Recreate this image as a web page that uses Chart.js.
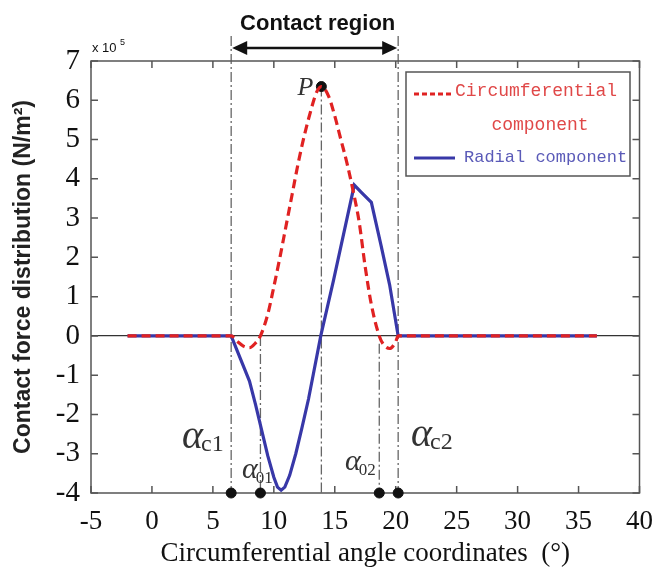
<!DOCTYPE html>
<html>
<head>
<meta charset="utf-8">
<script src="https://cdn.jsdelivr.net/npm/chart.js@4.4.0/dist/chart.umd.min.js"></script>
<style>
  body { margin: 0; background: #fff; }
  #wrap { width: 666px; height: 572px; }
</style>
</head>
<body>
<div id="wrap"><canvas id="forceChart"></canvas></div>
<script>
// circumferential component (x 10^5 N/m^2)
const circAngles = [-2, 6.5, 7, 7.5, 8, 8.5, 8.9, 9.5, 10, 10.5, 11, 11.5, 12, 12.5, 13, 13.5, 13.9, 14.5, 15, 15.5, 16, 16.5, 17, 17.5, 18, 18.65, 19, 19.5, 20, 20.2, 36.5];
const circValues = [0, 0, -0.14, -0.26, -0.3, -0.18, 0, 0.55, 1.25, 2.0, 2.8, 3.6, 4.4, 5.1, 5.7, 6.2, 6.35, 6.1, 5.6, 5.0, 4.4, 3.7, 2.9, 1.75, 0.8, 0, -0.22, -0.32, -0.15, 0, 0];

// radial component
const radialAngles = [-2, 6.5, 8.0, 8.5, 9, 9.5, 10, 10.3, 10.6, 10.9, 11.3, 11.8, 12.3, 12.85, 13.85, 14.9, 16.6, 17.2, 18, 18.8, 19.5, 20.2, 36.5];
const radialValues = [0, 0, -1.15, -1.75, -2.4, -3.05, -3.6, -3.85, -3.93, -3.85, -3.55, -3.0, -2.35, -1.6, 0, 1.42, 3.84, 3.65, 3.4, 2.3, 1.3, 0, 0];

// marked angles
const markerAngles = [6.5, 8.9, 18.65, 20.2];
const markerNames = ['c1', '01', '02', 'c2'];
const peakAngle = 13.9;
const peakValue = 6.35;

const xTicks = [-5, 0, 5, 10, 15, 20, 25, 30, 35, 40];
const yTicks = [-4, -3, -2, -1, 0, 1, 2, 3, 4, 5, 6, 7];

const serif = "'Liberation Serif', 'Times New Roman', serif";

function pts(xs, ys) {
  return xs.map((x, i) => ({ x: x, y: ys[i] }));
}

const decorations = {
  id: 'decorations',
  beforeDatasetsDraw(chart) {
    const c = chart.ctx, a = chart.chartArea;
    const xs = chart.scales.x, ys = chart.scales.y;
    c.save();
    // dash-dot guide lines
    c.strokeStyle = '#666';
    c.lineWidth = 1.3;
    c.setLineDash([10, 3, 2, 3]);
    const vline = (v, y0, y1) => {
      const px = xs.getPixelForValue(v);
      c.beginPath(); c.moveTo(px, y0); c.lineTo(px, y1); c.stroke();
    };
    vline(markerAngles[0], 36, a.bottom);
    vline(markerAngles[3], 36, a.bottom);
    vline(markerAngles[1], ys.getPixelForValue(0), a.bottom);
    vline(markerAngles[2], ys.getPixelForValue(-0.2), a.bottom);
    vline(peakAngle, ys.getPixelForValue(peakValue), a.bottom);
    c.setLineDash([]);
    // frame
    c.strokeStyle = '#555';
    c.lineWidth = 1.5;
    c.strokeRect(a.left, a.top, a.right - a.left, a.bottom - a.top);
    // inward ticks
    c.beginPath();
    xTicks.forEach(v => {
      const px = xs.getPixelForValue(v);
      c.moveTo(px, a.bottom); c.lineTo(px, a.bottom - 7);
      c.moveTo(px, a.top); c.lineTo(px, a.top + 7);
    });
    yTicks.forEach(v => {
      const py = ys.getPixelForValue(v);
      c.moveTo(a.left, py); c.lineTo(a.left + 7, py);
      c.moveTo(a.right, py); c.lineTo(a.right - 7, py);
    });
    c.stroke();
    c.restore();
  },
  afterDatasetsDraw(chart) {
    const c = chart.ctx, a = chart.chartArea;
    const xs = chart.scales.x, ys = chart.scales.y;
    c.save();
    // contact region arrow
    const x1 = xs.getPixelForValue(markerAngles[0]), x2 = xs.getPixelForValue(markerAngles[3]);
    const ay = 48;
    c.strokeStyle = '#111'; c.fillStyle = '#111'; c.lineWidth = 2.5;
    c.beginPath(); c.moveTo(x1 + 10, ay); c.lineTo(x2 - 10, ay); c.stroke();
    c.beginPath(); c.moveTo(x1 + 1, ay); c.lineTo(x1 + 16, ay - 7); c.lineTo(x1 + 16, ay + 7); c.closePath(); c.fill();
    c.beginPath(); c.moveTo(x2 - 1, ay); c.lineTo(x2 - 16, ay - 7); c.lineTo(x2 - 16, ay + 7); c.closePath(); c.fill();
    c.font = "bold 22px 'Liberation Sans Narrow', 'Liberation Sans', sans-serif";
    c.textAlign = 'center'; c.textBaseline = 'middle';
    c.fillText('Contact region', (x1 + x2) / 2 + 3, 24);
    // exponent
    c.textAlign = 'left'; c.textBaseline = 'alphabetic';
    c.font = "13px 'Liberation Sans', sans-serif";
    c.fillText('x 10', a.left + 1, 52);
    c.font = "9px 'Liberation Sans', sans-serif";
    c.fillText('5', a.left + 29, 45);
    // P label
    c.font = 'italic 26px ' + serif;
    c.fillStyle = '#333';
    c.textAlign = 'right';
    c.fillText('P', xs.getPixelForValue(peakAngle) - 8, ys.getPixelForValue(peakValue) + 8);
    // alpha labels
    const alpha = (x, y, sub, big) => {
      c.textAlign = 'left';
      c.font = 'italic ' + (big ? 40 : 30) + 'px ' + serif;
      c.fillText('\u03b1', x, y);
      const w = c.measureText('\u03b1').width;
      c.font = (big ? 24 : 17) + 'px ' + serif;
      c.fillText(sub, x + w - 2, y + (big ? 3 : 5));
    };
    alpha(182, 448, markerNames[0], true);
    alpha(242, 478, markerNames[1], false);
    alpha(345, 470, markerNames[2], false);
    alpha(411, 446, markerNames[3], true);
    // legend
    c.strokeStyle = '#555'; c.lineWidth = 1.5;
    c.strokeRect(406, 72, 224, 104);
    c.strokeStyle = '#e02222'; c.lineWidth = 3; c.setLineDash([5, 3]);
    c.beginPath(); c.moveTo(414, 94); c.lineTo(453, 94); c.stroke();
    c.setLineDash([]);
    c.font = "18px 'Liberation Mono', monospace";
    c.fillStyle = '#e04848';
    c.textAlign = 'left'; c.textBaseline = 'middle';
    c.fillText('Circumferential', 455, 91);
    c.textAlign = 'center';
    c.fillText('component', 540, 125);
    c.strokeStyle = '#3838a8';
    c.beginPath(); c.moveTo(414, 158); c.lineTo(455, 158); c.stroke();
    c.fillStyle = '#5a5ab8';
    c.font = "17px 'Liberation Mono', monospace";
    c.textAlign = 'left';
    c.fillText('Radial component', 464, 157);
    c.restore();
  }
};

const ctx = document.getElementById('forceChart');
new Chart(ctx, {
  type: 'line',
  data: {
    datasets: [
      {
        label: 'Circumferential component',
        data: pts(circAngles, circValues),
        borderColor: '#e02222',
        borderWidth: 3.2,
        borderDash: [9, 5],
        pointRadius: 0,
        cubicInterpolationMode: 'monotone',
        fill: false
      },
      {
        label: 'Radial component',
        data: pts(radialAngles, radialValues),
        borderColor: '#3838a8',
        borderWidth: 3.2,
        pointRadius: 0,
        tension: 0,
        fill: false
      },
      {
        label: 'markers',
        type: 'scatter',
        data: markerAngles.map(x => ({ x: x, y: -4 })).concat([{ x: peakAngle, y: peakValue }]),
        backgroundColor: '#111',
        borderColor: '#111',
        pointRadius: 5,
        clip: false
      }
    ]
  },
  options: {
    responsive: true,
    maintainAspectRatio: false,
    animation: false,
    layout: { padding: { left: 0, top: 61, right: 23, bottom: 0 } },
    plugins: { legend: { display: false }, tooltip: { enabled: false } },
    scales: {
      x: {
        type: 'linear',
        min: -5, max: 40,
        afterFit: s => { s.height = 79; },
        afterBuildTicks: s => { s.ticks = xTicks.map(v => ({ value: v })); },
        grid: { display: false, drawTicks: false },
        border: { display: false },
        ticks: { font: { family: serif, size: 27 }, color: '#111', padding: 13, maxRotation: 0 },
        title: {
          display: true,
          text: 'Circumferential angle coordinates  (\u00b0)',
          font: { family: serif, size: 27 },
          color: '#111',
          padding: { top: 0, bottom: 2 }
        }
      },
      y: {
        min: -4, max: 7,
        afterFit: s => { s.width = 91; },
        afterBuildTicks: s => { s.ticks = yTicks.map(v => ({ value: v })); },
        grid: {
          drawTicks: false,
          color: c => c.tick && c.tick.value === 0 ? '#333' : 'rgba(0,0,0,0)',
          lineWidth: 1.2
        },
        border: { display: false },
        ticks: { font: { family: serif, size: 29 }, color: '#111', padding: 11 },
        title: {
          display: true,
          text: 'Contact force distribution (N/m\u00b2)',
          font: { family: "'Liberation Sans', Arial, sans-serif", size: 23, weight: 'bold' },
          color: '#222',
          padding: { top: 10, bottom: 0 }
        }
      }
    }
  },
  plugins: [decorations]
});
</script>
</body>
</html>
